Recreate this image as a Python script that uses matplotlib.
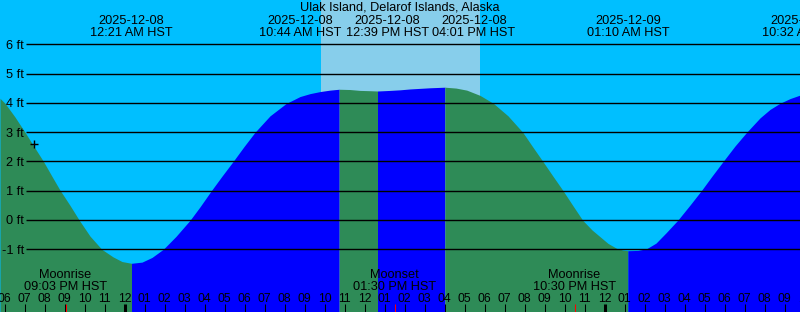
import matplotlib
matplotlib.use('Agg')
import matplotlib.pyplot as plt
import matplotlib.transforms as mtransforms
import numpy as np

plt.rcParams['font.family'] = ['Liberation Sans', 'DejaVu Sans']
plt.rcParams['font.size'] = 9.2

station = 'Ulak Island, Delarof Islands, Alaska'

# tide level: hours after 2025-12-08 00:00 HST, feet
tide_hours = [-6.225, -5.975, -5.475, -4.975, -4.525, -4.06, -3.625, -3.225,
              -2.725, -2.26, -1.725, -1.14, -0.575, -0.125, 0.35, 0.875,
              1.375, 1.94, 2.575, 3.275, 3.775, 4.36, 4.875, 5.44,
              5.975, 6.525, 7.275, 8.075, 8.775, 9.275, 9.775, 10.275,
              10.733, 11.275, 11.775, 12.275, 12.65, 13.275, 13.775, 14.275,
              14.775, 15.275, 16.017, 16.575, 17.11, 17.775, 18.44, 19.175,
              19.91, 20.41, 20.91, 21.41, 21.91, 22.41, 22.91, 23.375,
              23.775, 24.175, 24.61, 24.925, 25.167, 25.675, 26.11, 26.575,
              27.075, 27.66, 28.275, 28.86, 29.375, 29.94, 30.525, 31.11,
              31.775, 32.275, 32.775, 33.275, 33.775]
tide_feet = [4.16, 3.99, 3.52, 3.00, 2.51, 2.01, 1.49, 1.02,
             0.50, -0.01, -0.55, -1.00, -1.26, -1.42, -1.48, -1.44,
             -1.28, -1.00, -0.56, -0.01, 0.45, 1.02, 1.50, 2.01,
             2.51, 3.00, 3.56, 3.98, 4.22, 4.32, 4.39, 4.44,
             4.47, 4.46, 4.43, 4.42, 4.41, 4.43, 4.45, 4.48,
             4.50, 4.52, 4.54, 4.51, 4.44, 4.26, 3.99, 3.56,
             3.00, 2.50, 2.01, 1.51, 1.02, 0.50, -0.01, -0.34,
             -0.57, -0.80, -0.97, -1.03, -1.05, -1.04, -0.98, -0.79,
             -0.44, -0.01, 0.51, 1.02, 1.50, 2.01, 2.53, 3.00,
             3.49, 3.78, 3.99, 4.15, 4.27]

# high / low tide events
event_hours = [0.35, 10.733, 12.65, 16.017, 25.167, 34.533]
event_kind = ['low', 'high', 'low', 'high', 'low', 'high']
event_dates = ['2025-12-08', '2025-12-08', '2025-12-08', '2025-12-08',
               '2025-12-09', '2025-12-09']
event_times = ['12:21 AM HST', '10:44 AM HST', '12:39 PM HST',
               '04:01 PM HST', '01:10 AM HST', '10:32 AM HST']

# moon events
moon_hours = [-2.95, 13.5, 22.5]
moon_names = ['Moonrise', 'Moonset', 'Moonrise']
moon_times = ['09:03 PM HST', '01:30 PM HST', '10:30 PM HST']

sunrise_h = 9.825
sunset_h = 17.775
now_hour = -4.525
now_feet = 2.60

x0, x1 = -6.225, 33.775
y0, y1 = -3.145, 7.521
W, H = 800, 312

fig = plt.figure(figsize=(W / 100, H / 100), dpi=100)
fig.patch.set_facecolor('#00BFFF')
ax = fig.add_axes([0, 0, 1, 1])
ax.set_facecolor('#00BFFF')
ax.set_xlim(x0, x1)
ax.set_ylim(y0, y1)
ax.axis('off')

# x in data, y in pixels from the top
def ytop(px):
    return 1 - px / H

bt = mtransforms.blended_transform_factory(ax.transData, ax.transAxes)

ax.axvspan(sunrise_h, sunset_h, color='#87CEEB', lw=0, zorder=1)

t = np.array(tide_hours)
f = np.array(tide_feet)
bounds = [x0] + [h for h in event_hours if x0 < h < x1] + [x1]
for a, b in zip(bounds[:-1], bounds[1:]):
    nxt = [k for h, k in zip(event_hours, event_kind) if h >= b - 1e-9][0]
    col = '#0000FF' if nxt == 'high' else '#2E8B57'
    m = (t >= a - 1e-9) & (t <= b + 1e-9)
    ax.fill_between(t[m], f[m], y0 - 1, color=col, lw=0, zorder=2)

# level lines and labels
line_start = (26 - 124.5) / 20
for ft in range(-1, 7):
    ax.plot([line_start, x1], [ft, ft], color='black', lw=1.0, zorder=3,
            solid_capstyle='butt')
    ax.text(line_start - 0.1, ft - 0.15, f'{ft} ft', ha='right',
            va='baseline', zorder=4)

ax.plot(now_hour, now_feet, marker='+', color='black', ms=6, mew=1, zorder=4)

# title
fig.text(0.5, ytop(11), station, ha='center', va='baseline')

# spread the event labels so they do not overlap
def spread(pos, w):
    groups = [[p] for p in pos]
    centers = list(pos)
    changed = True
    while changed:
        changed = False
        for i in range(len(groups) - 1):
            ri = centers[i] + (len(groups[i]) - 1) / 2 * w
            li = centers[i + 1] - (len(groups[i + 1]) - 1) / 2 * w
            if li - ri < w:
                groups[i] = groups[i] + groups[i + 1]
                centers[i] = float(np.mean(groups[i]))
                del groups[i + 1]
                del centers[i + 1]
                changed = True
                break
    out = []
    for g, c in zip(groups, centers):
        for j in range(len(g)):
            out.append(c + (j - (len(g) - 1) / 2) * w)
    return out

label_x = spread(event_hours, 4.33)
for lx, d, tm in zip(label_x, event_dates, event_times):
    lx = min(lx, x1 + 0.15)
    ax.text(lx, ytop(24), d, ha='center', va='baseline', transform=bt,
            zorder=5, clip_on=False)
    ax.text(lx, ytop(36), tm, ha='center', va='baseline', transform=bt,
            zorder=5, clip_on=False)

# moon labels
for mh, name, tm in zip(moon_hours, moon_names, moon_times):
    ax.text(mh, ytop(278.3), name, ha='center', va='baseline',
            transform=bt, zorder=5)
    ax.text(mh, ytop(290), tm, ha='center', va='baseline',
            transform=bt, zorder=5)

# hour ticks and labels
tick_top = ytop(304)
for hr in range(-6, 35):
    lab = (hr % 12) or 12
    ax.text(hr, ytop(302), f'{lab:02d}', ha='center', va='baseline',
            transform=bt, zorder=5, fontsize=8.8)
    lw = 2.2 if hr % 24 == 0 else 0.75
    ax.plot([hr, hr], [0, tick_top], color='black', lw=lw, transform=bt,
            zorder=5, solid_capstyle='butt', clip_on=False)
for mh in moon_hours:
    ax.plot([mh, mh], [0, tick_top], color='red', lw=0.75, transform=bt,
            zorder=5, solid_capstyle='butt')

fig.savefig('out.png', dpi=100, facecolor=fig.get_facecolor())
